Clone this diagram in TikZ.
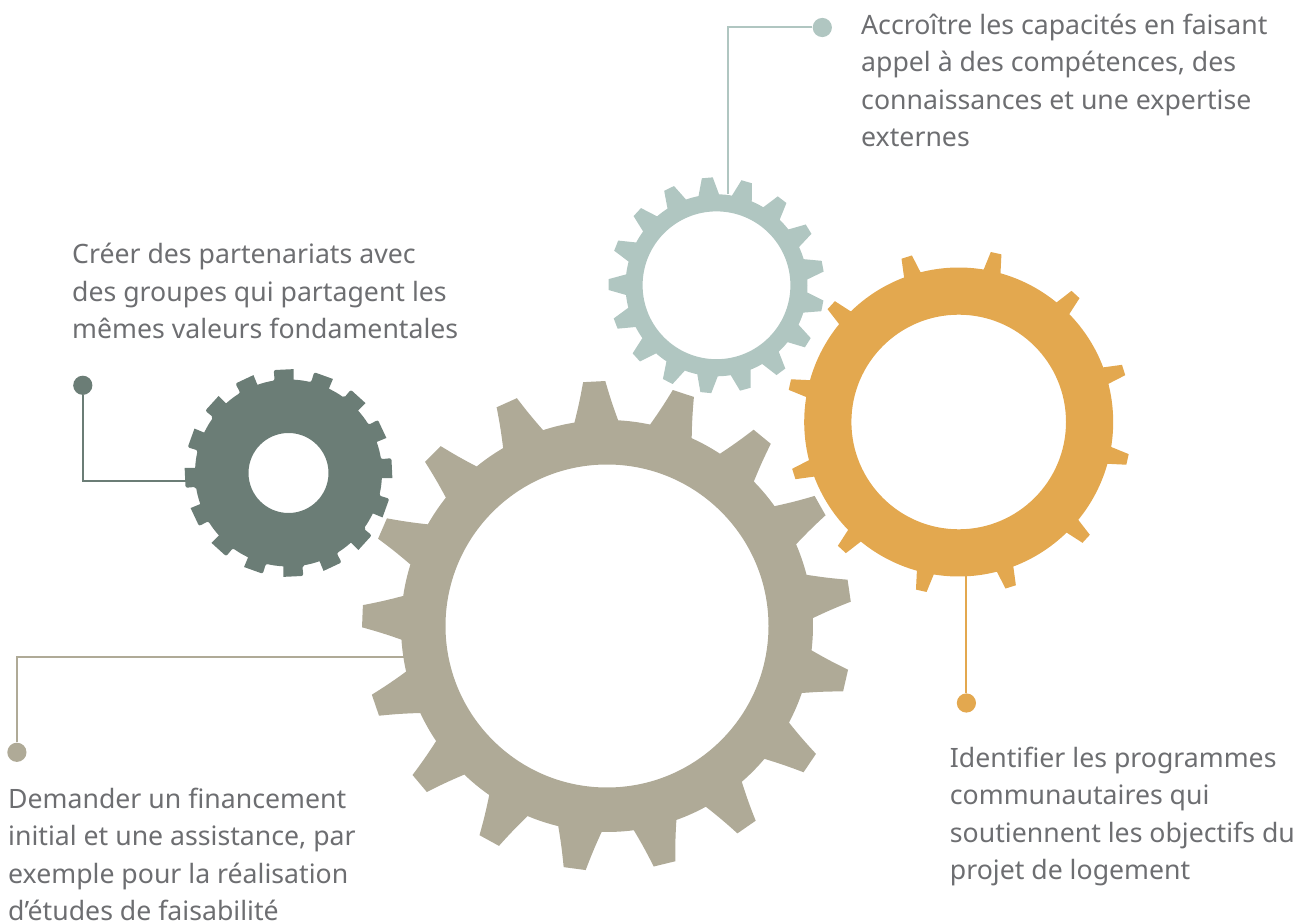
\documentclass[tikz,border=0pt]{standalone}
\usepackage{fontspec}
\setmainfont{Noto Sans}
\definecolor{gearbig}{HTML}{AFAA97}
\definecolor{gearorange}{HTML}{E3A84F}
\definecolor{gearteal}{HTML}{B0C6C1}
\definecolor{geardark}{HTML}{6B7D76}
\definecolor{bodytext}{HTML}{6D6E71}
\tikzset{
    geartip/.style={sharp corners},
    gearflank/.style={},
    dot/.style={circle, fill=#1, inner sep=0pt, minimum size=9.6pt},
    link/.style={draw=#1, line width=1pt},
    caption/.style={anchor=north west, inner sep=0pt, align=left, text=bodytext, font=\fontsize{13.33}{18.75}\selectfont}
}
% #1 colour, #2 centre, #3 teeth, #4 first tooth angle, #5 root radius, #6 tip radius, #7 half base angle, #8 half tip angle, #9 hole radius
\newcommand{\drawgear}[9]{
    \pgfmathsetmacro{\gearstep}{360/#3}
    \pgfmathsetmacro{\gearlast}{#3-1}
    \begin{scope}[shift={(#2)}]
        \fill [#1, even odd rule] (#4-#7:#5)
            \foreach \k in {0,...,\gearlast} {
                \pgfextra{\pgfmathsetmacro{\gearangle}{#4+\k*\gearstep}}
                to [gearflank] (\gearangle-#8:#6) [geartip] -- (\gearangle+#8:#6) to [gearflank] (\gearangle+#7:#5) [sharp corners]
                arc [start angle=\gearangle+#7, end angle=\gearangle+\gearstep-#7, radius=#5]
            } -- cycle (0,0) circle [radius=#9];
    \end{scope}
}
\begin{document}
\begin{tikzpicture}[x=0.5pt, y=0.5pt]
    \useasboundingbox (0,0) rectangle (1307,922);
    \begin{scope}[gearflank/.style={bend left=2}]
        \drawgear{gearbig}{607,296}{17}{93}{206}{245}{6.1}{2.6}{161.5}
    \end{scope}
    \drawgear{gearorange}{958.7,500}{12}{77.5}{154.5}{173}{3.2}{1.8}{107.3}
    \drawgear{gearteal}{716.5,636.7}{17}{94.9}{91}{108}{6.5}{2.9}{73.9}
    \begin{scope}[geartip/.style={rounded corners=1pt}]
        \drawgear{geardark}{288.5,449}{16}{2.7}{93.5}{104}{5.8}{5.5}{40}
    \end{scope}
    \node [dot=gearteal] (dotteal) at (822.3,894.5) {};
    \node [dot=geardark] (dotdark) at (82.8,536.7) {};
    \node [dot=gearbig] (dotbig) at (16.9,169.7) {};
    \node [dot=gearorange] (dotorange) at (966.4,219) {};
    \coordinate (endteal) at (728,728);
    \coordinate (enddark) at (186,441.3);
    \coordinate (endbig) at (405,264.7);
    \coordinate (endorange) at (966.4,349);
    \draw [link=gearteal] (dotteal) -| (endteal);
    \draw [link=geardark] (dotdark) |- (enddark);
    \draw [link=gearbig] (dotbig) |- (endbig);
    \draw [link=gearorange] (dotorange) -- (endorange);
    \node [caption] (textteal) at (860.8,908.5) {Accroître les capacités en faisant\\appel à des compétences, des\\connaissances et une expertise\\externes};
    \node [caption] (textdark) at (71.8,679) {Créer des partenariats avec\\des groupes qui partagent les\\mêmes valeurs fondamentales};
    \node [caption] (textorange) at (949.5,175.5) {Identifier les programmes\\communautaires qui\\soutiennent les objectifs du\\projet de logement};
    \node [caption] (textbig) at (7.8,134.5) {Demander un financement\\initial et une assistance, par\\exemple pour la réalisation\\d’études de faisabilité};
\end{tikzpicture}
\end{document}
